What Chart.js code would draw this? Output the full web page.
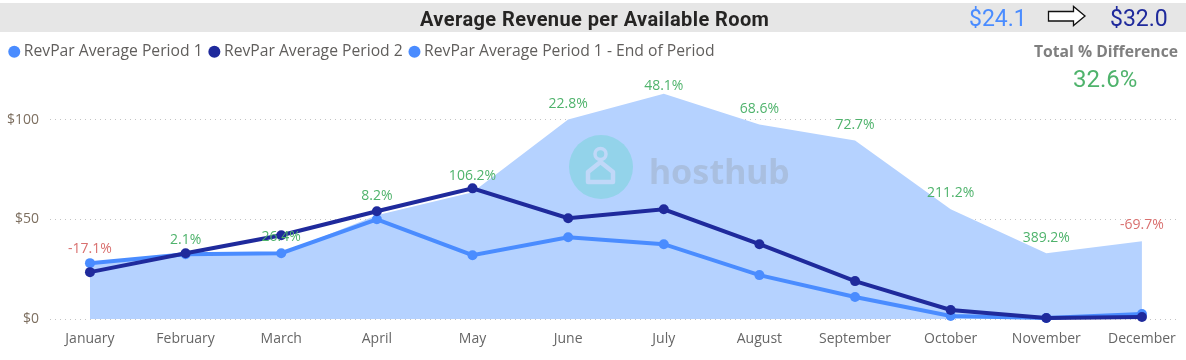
<!DOCTYPE html>
<html><head><meta charset="utf-8">
<script src="https://cdn.jsdelivr.net/npm/chart.js@4/dist/chart.umd.js"></script>
<style>
html,body{margin:0;padding:0;background:#fff;overflow:hidden}
#wrap{position:relative;width:1186px;height:360px;font-family:"Open Sans",sans-serif}
#band{position:absolute;left:0;top:3px;width:1186px;height:29px;background:#e6e6e6}
.t{position:absolute;white-space:nowrap;line-height:1}
#title{left:420px;top:7px;font:bold 20px Roboto;color:#252423;letter-spacing:.41px}
#v1{left:969px;top:5px;font:23px Roboto;color:#4a8cff}
#v2{left:1110px;top:5px;font:23px Roboto;color:#1f2a9c}
#tot{left:1034px;top:40px;font:bold 15.7px "Open Sans";color:#7f7f7f}
#pct{left:1073px;top:65px;font:24px Roboto;color:#4fb36c}
#arrow{position:absolute;left:1047px;top:5px}
#wm{position:absolute;left:569px;top:135px}
#wmt{left:649px;top:148px;font:bold 34px "Noto Sans";color:#a9bfe0}
canvas{position:absolute;left:0;top:0}
</style></head><body>
<div id="wrap">
<div id="band"></div>
<canvas id="c" width="1186" height="360"></canvas>
<div class="t" id="title">Average Revenue per Available Room</div>
<div class="t" id="v1">$24.1</div>
<svg id="arrow" width="40" height="23"><polygon points="1.5,6.5 26.5,6.5 26.5,1.5 38,11 26.5,20.5 26.5,16 1.5,16" fill="#fff" stroke="#111" stroke-width="1.3"/></svg>
<div class="t" id="v2">$32.0</div>
<div class="t" id="tot">Total % Difference</div>
<div class="t" id="pct">32.6%</div>
<svg id="wm" width="66" height="66"><circle cx="32" cy="32" r="32" fill="#93d3ea"/>
<circle cx="31.5" cy="19" r="5.5" fill="none" stroke="#c0d8f8" stroke-width="3.5"/>
<path d="M31.5 27 L19 37 V47 H44 V37 Z" fill="none" stroke="#c0d8f8" stroke-width="4.5" stroke-linejoin="round"/></svg>
<div class="t" id="wmt">hosthub</div>
</div>
<script>
const months=["January","February","March","April","May","June","July","August","September","October","November","December"];
const period1=[28,32.5,33,50,32,41,37.5,22,11,1.5,0.5,2.5];
const period2=[23.5,33,42,54,65.5,50.5,55,37.5,19,4.5,0.5,1];
const endOfPeriod=[28,32.5,33,52,63.5,100,113,97.5,89.5,55,33,39];
const pctLabels=["-17.1%","2.1%","26.4%","8.2%","106.2%","22.8%","48.1%","68.6%","72.7%","211.2%","389.2%","-69.7%"];
const pctAnchor=[35,39.5,41,61.5,71.5,108,117,105.5,97.5,63,40.5,47];
const C1="#4a8cff",C2="#1f2a9c",AREA="#b5d2ff",GREEN="#4fb36c",RED="#d9706f";
const pts=a=>a.map((y,x)=>({x,y}));
const labelPlugin={id:"pct",afterDatasetsDraw(ch){
  const {ctx,scales:{x,y}}=ch;ctx.save();
  ctx.font='14px "Open Sans"';ctx.textAlign="center";ctx.textBaseline="middle";
  pctLabels.forEach((s,i)=>{ctx.fillStyle=s[0]==="-"?RED:GREEN;ctx.fillText(s,x.getPixelForValue(i),y.getPixelForValue(pctAnchor[i]));});
  ctx.restore();}};
new Chart(document.getElementById("c"),{type:"line",
 data:{datasets:[
  {label:"RevPar Average Period 1",data:pts(period1),clip:false,borderColor:C1,backgroundColor:C1,borderWidth:4,pointRadius:5,pointBackgroundColor:C1,pointBorderWidth:0,tension:0,order:2},
  {label:"RevPar Average Period 2",data:pts(period2),clip:false,borderColor:C2,backgroundColor:C2,borderWidth:4,pointRadius:5,pointBackgroundColor:C2,pointBorderWidth:0,tension:0,order:1},
  {label:"RevPar Average Period 1 - End of Period",data:pts(endOfPeriod),borderWidth:0,borderColor:AREA,backgroundColor:AREA,fill:"origin",pointRadius:0,tension:0,order:3}
 ]},
 options:{responsive:false,animation:false,
  layout:{padding:{top:34,right:8,left:2.5,bottom:0}},
  plugins:{tooltip:{enabled:false},
   legend:{position:"top",align:"start",
    labels:{usePointStyle:true,pointStyle:"circle",boxWidth:3.5,boxHeight:8.5,padding:10,color:"#605e5c",font:{family:"Open Sans",size:15.7},
     generateLabels(ch){return ch.data.datasets.map((d,i)=>({text:d.label,fillStyle:i===1?C2:C1,strokeStyle:i===1?C2:C1,lineWidth:0,pointStyle:"circle",fontColor:"#605e5c",datasetIndex:i}));}}}},
  scales:{
   x:{type:"linear",min:-0.418,max:11.377,
     afterBuildTicks(a){a.ticks=months.map((_,i)=>({value:i}));},
     afterFit(a){a.height=41;},
     grid:{display:false},border:{display:false},
     ticks:{autoSkip:false,maxRotation:0,padding:4,color:"#666",font:{family:"Open Sans",size:14},callback:v=>months[v]}},
   y:{min:0,max:125,
     afterBuildTicks(a){a.ticks=[{value:0},{value:50},{value:100}];},
     afterFit(a){a.width=47.5;},
     border:{display:false,dash:[1,4]},
     grid:{color:"#c4c4c4",lineWidth:1,drawTicks:false},
     ticks:{padding:11,color:"#7d6f60",font:{family:"Open Sans",size:14},callback:v=>"$"+v}}
  }},
 plugins:[labelPlugin]
});
</script>
</body></html>
